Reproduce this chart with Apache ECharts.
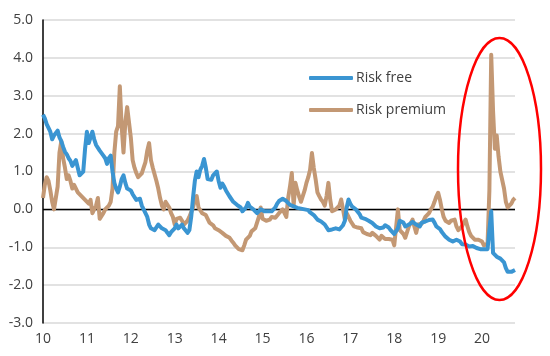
<!DOCTYPE html>
<html>
<head>
<meta charset="utf-8">
<script src="https://cdn.jsdelivr.net/npm/echarts@6/dist/echarts.min.js"></script>
<style>
html,body{margin:0;padding:0;background:#fff;}
#chart{width:550px;height:356px;}
</style>
</head>
<body>
<div id="chart"></div>
<script>
// time axis: years 2010..2020.75, two observations per month
var startYear = 10;
var pointsPerYear = 24;
var xTickLabels = ['10','11','12','13','14','15','16','17','18','19','20'];
var seriesNames = ['Risk free', 'Risk premium'];

var riskFree = [
  // 2010
  2.5,2.4,2.25,2.15,2.05,1.85,1.95,2.0,2.08,1.9,1.8,1.65,1.52,1.45,1.35,1.28,1.15,1.2,1.3,1.1,0.9,0.85,1.0,1.6,
  // 2011
  2.05,1.75,1.8,2.05,1.85,1.7,1.65,1.55,1.5,1.42,1.35,1.2,1.35,1.42,1.0,0.7,0.55,0.45,0.6,0.8,0.9,0.7,0.55,0.5,
  // 2012
  0.5,0.4,0.35,0.25,0.3,0.28,0.1,0.0,-0.1,-0.2,-0.4,-0.5,-0.45,-0.55,-0.5,-0.4,-0.35,-0.5,-0.45,-0.55,-0.62,-0.68,-0.6,-0.55,
  // 2013
  -0.5,-0.4,-0.5,-0.45,-0.4,-0.5,-0.55,-0.62,-0.55,-0.2,0.3,0.75,1.0,0.85,1.05,1.15,1.33,1.1,0.8,0.85,0.78,0.9,0.95,1.0,
  // 2014
  0.75,0.57,0.68,0.6,0.5,0.45,0.34,0.3,0.2,0.18,0.12,0.1,0.05,-0.05,-0.1,0.05,0.17,0.07,0.05,0.0,-0.05,-0.1,-0.05,0.0,
  // 2015
  0.0,-0.05,-0.08,-0.05,0.0,-0.05,0.0,0.05,0.15,0.22,0.25,0.28,0.3,0.22,0.18,0.12,0.17,0.08,0.05,0.04,0.05,0.02,0.0,0.0,
  // 2016
  0.0,-0.02,-0.08,-0.12,-0.15,-0.2,-0.27,-0.25,-0.32,-0.36,-0.4,-0.45,-0.55,-0.59,-0.53,-0.55,-0.5,-0.55,-0.53,-0.5,-0.42,-0.3,0.05,0.26,
  // 2017
  0.15,0.07,0.05,0.0,-0.05,-0.12,-0.22,-0.2,-0.25,-0.27,-0.3,-0.35,-0.36,-0.4,-0.45,-0.48,-0.5,-0.53,-0.48,-0.42,-0.4,-0.48,-0.55,-0.6,
  // 2018
  -0.65,-0.62,-0.5,-0.3,-0.27,-0.35,-0.45,-0.42,-0.4,-0.35,-0.33,-0.38,-0.4,-0.43,-0.45,-0.35,-0.3,-0.32,-0.3,-0.28,-0.27,-0.27,-0.35,-0.45,
  // 2019
  -0.45,-0.52,-0.6,-0.65,-0.72,-0.75,-0.8,-0.83,-0.85,-0.8,-0.8,-0.82,-0.85,-0.92,-0.9,-0.93,-0.95,-0.98,-0.98,-0.97,-1.0,-1.02,-1.05,-1.05,
  // 2020
  -1.02,-1.05,-1.06,-1.05,-1.08,-0.05,-1.15,-1.18,-1.25,-1.24,-1.3,-1.35,-1.4,-1.55,-1.65,-1.7,-1.65,-1.6,-1.6
];

var riskPremium = [
  // 2010
  0.3,0.65,0.85,0.75,0.5,0.2,0.0,-0.05,0.6,1.5,1.8,1.35,1.1,0.8,0.9,0.75,0.55,0.65,0.7,0.45,0.5,0.35,0.4,0.25,
  // 2011
  0.2,0.15,0.25,-0.1,-0.05,0.1,0.3,-0.25,-0.2,-0.1,0.0,0.05,0.1,0.2,0.55,1.5,2.05,2.2,3.25,2.2,1.5,2.3,2.7,2.3,
  // 2012
  1.9,1.3,1.1,0.96,0.85,0.8,0.95,1.1,1.25,1.55,1.75,1.3,1.1,1.05,0.75,0.55,0.3,0.1,0.0,0.2,0.15,0.05,-0.1,-0.2,
  // 2013
  -0.4,-0.25,-0.3,-0.22,-0.3,-0.4,-0.45,-0.3,-0.2,-0.15,0.05,0.25,0.35,0.05,0.0,-0.1,-0.05,-0.15,-0.25,-0.35,-0.4,-0.42,-0.5,-0.53,
  // 2014
  -0.55,-0.6,-0.62,-0.58,-0.7,-0.68,-0.75,-0.82,-0.88,-0.95,-1.0,-1.05,-1.1,-1.08,-0.95,-0.8,-0.75,-0.7,-0.58,-0.6,-0.5,-0.45,-0.2,0.05,
  // 2015
  -0.25,-0.2,-0.3,-0.25,-0.27,-0.2,-0.15,-0.22,-0.18,-0.1,-0.05,0.0,-0.1,-0.2,0.3,0.6,0.96,0.1,0.7,0.5,0.34,0.2,0.2,0.5,
  // 2016
  0.7,0.85,1.05,1.49,1.1,0.8,0.45,0.35,0.26,0.2,0.1,0.35,0.7,0.25,-0.05,-0.1,0.0,0.0,0.1,0.26,0.0,-0.27,-0.1,-0.2,
  // 2017
  -0.3,-0.35,-0.45,-0.4,-0.48,-0.53,-0.5,-0.6,-0.62,-0.65,-0.7,-0.68,-0.62,-0.6,-0.7,-0.75,-0.8,-0.7,-0.72,-0.78,-0.8,-0.78,-0.82,-0.8,
  // 2018
  -0.95,-0.9,0.0,-0.55,-0.6,-0.65,-0.75,-0.8,-0.45,-0.4,-0.27,-0.45,-0.62,-0.4,-0.35,-0.38,-0.3,-0.2,-0.15,-0.1,0.0,0.07,0.2,0.34,
  // 2019
  0.44,0.25,0.0,-0.2,-0.3,-0.35,-0.36,-0.3,-0.35,-0.27,-0.45,-0.55,-0.5,-0.45,-0.35,-0.27,-0.45,-0.6,-0.7,-0.75,-0.8,-0.78,-0.8,-0.85,
  // 2020
  -0.85,-0.95,-1.0,-0.9,0.5,4.08,2.6,1.6,1.95,1.4,1.0,1.0,0.55,0.2,0.05,0.07,0.15,0.25,0.3
];

function toPairs(values) {
  var out = [];
  for (var i = 0; i < values.length; i++) {
    out.push([startYear + i / pointsPerYear, values[i]]);
  }
  return out;
}

var textColor = '#404040';
var fontFamily = '"Open Sans", "Noto Sans", sans-serif';
var blue = '#3a95d2';
var tan = '#c39874';

var chart = echarts.init(document.getElementById('chart'), null, {renderer: 'canvas'});
chart.setOption({
  animation: false,
  backgroundColor: '#ffffff',
  grid: {left: 43, right: 35, top: 20, bottom: 33, containLabel: false},
  legend: {
    data: seriesNames,
    orient: 'vertical',
    left: 309,
    top: 70,
    padding: 0,
    itemWidth: 44,
    itemHeight: 4,
    itemGap: 16,
    icon: 'roundRect',
    textStyle: {color: textColor, fontSize: 14, lineHeight: 16, fontFamily: fontFamily, padding: [0, 0, 0, -2]}
  },
  xAxis: {
    type: 'value',
    min: startYear,
    max: startYear + 10.75,
    interval: 1,
    axisLine: {show: false},
    axisTick: {show: false},
    splitLine: {show: false},
    axisLabel: {
      color: textColor, fontSize: 14, fontFamily: fontFamily, margin: 9,
      showMaxLabel: false,
      formatter: function (v) {
        var idx = Math.round(v - startYear);
        if (Math.abs(v - Math.round(v)) > 1e-6) return '';
        return xTickLabels[idx] || '';
      }
    }
  },
  yAxis: {
    type: 'value',
    min: -3,
    max: 5,
    interval: 1,
    axisLine: {show: true, onZero: false, lineStyle: {color: '#000', width: 1.5}},
    axisTick: {show: false},
    splitLine: {show: true, lineStyle: {color: '#d9d9d9', width: 1.5}},
    axisLabel: {
      color: textColor, fontSize: 14, fontFamily: fontFamily, margin: 10,
      formatter: function (v) { return v.toFixed(1); }
    }
  },
  series: [
    {
      name: seriesNames[1],
      type: 'line',
      data: toPairs(riskPremium),
      symbol: 'none',
      color: tan,
      itemStyle: {color: tan},
      lineStyle: {width: 4, color: tan, join: 'round'},
      markLine: {
        silent: true,
        symbol: 'none',
        label: {show: false},
        lineStyle: {color: '#000', width: 1.3, type: 'solid'},
        data: [{yAxis: 0}],
        z: 1
      },
      z: 2
    },
    {
      name: seriesNames[0],
      type: 'line',
      data: toPairs(riskFree),
      symbol: 'none',
      color: blue,
      itemStyle: {color: blue},
      lineStyle: {width: 4, color: blue, join: 'round'},
      z: 3
    }
  ],
  graphic: [
    {
      type: 'ellipse',
      shape: {cx: 499.5, cy: 169, rx: 41.5, ry: 131},
      style: {fill: 'none', stroke: '#ff0000', lineWidth: 2.5},
      z: 100
    }
  ]
});
</script>
</body>
</html>
